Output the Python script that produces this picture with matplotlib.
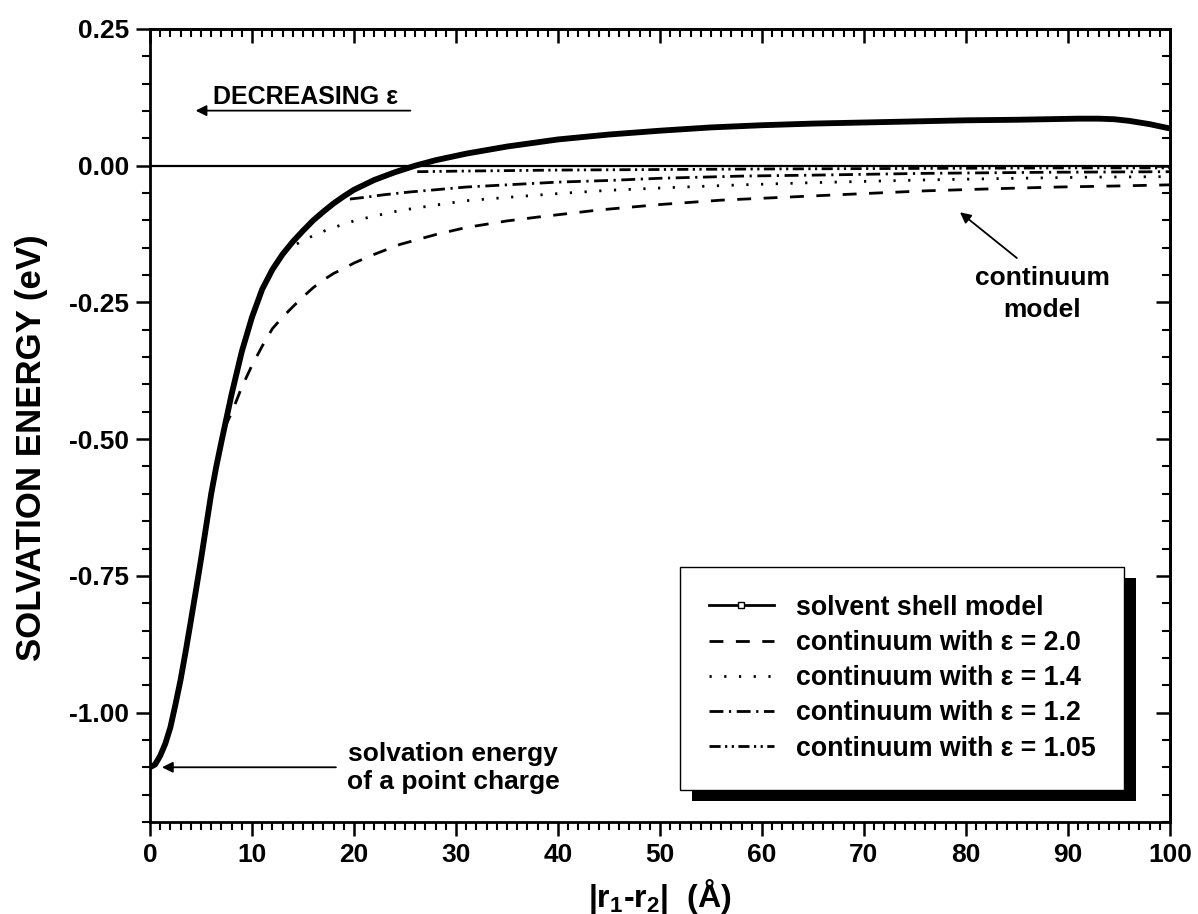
import numpy as np
import matplotlib.pyplot as plt
from matplotlib.lines import Line2D
from matplotlib.patches import Rectangle
from matplotlib.ticker import MultipleLocator, FormatStrFormatter

plt.rcParams['font.family'] = ['Liberation Sans', 'DejaVu Sans']
plt.rcParams['font.weight'] = 'bold'
plt.rcParams['axes.labelweight'] = 'bold'
plt.rcParams['axes.unicode_minus'] = False
plt.rcParams['mathtext.fontset'] = 'custom'
plt.rcParams['mathtext.rm'] = 'Liberation Sans:bold'
plt.rcParams['mathtext.default'] = 'rm'

# solvent shell model
shell_x = [0, 0.5, 1, 1.5, 2, 2.5, 3, 3.5, 4, 4.5, 5, 5.5, 6, 6.5, 7, 8, 9, 10, 11, 12,
           13, 14, 15, 16, 17, 18, 19, 20, 22, 24, 26, 28, 31, 35, 40, 45, 50, 55, 60,
           65, 70, 75, 80, 85, 88, 91, 93, 94.5, 96, 98, 100]
shell_y = [-1.100, -1.095, -1.079, -1.057, -1.027, -0.985, -0.94, -0.888, -0.833, -0.777,
           -0.72, -0.66, -0.60, -0.55, -0.505, -0.418, -0.34, -0.277, -0.226, -0.190,
           -0.162, -0.139, -0.119, -0.100, -0.084, -0.069, -0.056, -0.044, -0.026, -0.012,
           0.000, 0.010, 0.022, 0.035, 0.048, 0.057, 0.064, 0.070, 0.074, 0.077, 0.079,
           0.081, 0.083, 0.084, 0.085, 0.086, 0.086, 0.085, 0.082, 0.076, 0.068]

# continuum, eps = 2.0
eps20_x = [7.3, 8, 9, 10, 11, 12, 13, 14, 15, 16, 17, 18, 19, 20, 22, 24.5, 28, 31, 35,
           38, 44, 50, 56, 63, 70, 76, 83, 89, 95, 100]
eps20_y = [-0.48, -0.452, -0.405, -0.365, -0.330, -0.298, -0.277, -0.258, -0.240, -0.223,
           -0.209, -0.197, -0.188, -0.178, -0.162, -0.144, -0.126, -0.113, -0.101, -0.094,
           -0.081, -0.071, -0.063, -0.057, -0.051, -0.046, -0.042, -0.039, -0.037, -0.035]

# continuum, eps = 1.4
eps14_x = [14.4, 15, 16, 17, 18, 19, 20, 22, 24.5, 28, 31, 35, 40, 45, 51, 58, 65, 76,
           85, 92, 100]
eps14_y = [-0.143, -0.137, -0.128, -0.120, -0.113, -0.107, -0.101, -0.092, -0.082, -0.072,
           -0.064, -0.058, -0.051, -0.045, -0.040, -0.035, -0.031, -0.026, -0.023, -0.021,
           -0.020]

# continuum, eps = 1.2
eps12_x = [19.6, 21, 23, 25.5, 28, 31, 35, 40, 45, 50, 58, 66, 76, 88, 100]
eps12_y = [-0.061, -0.058, -0.053, -0.048, -0.044, -0.039, -0.035, -0.030, -0.027, -0.023,
           -0.019, -0.017, -0.014, -0.012, -0.011]

# continuum, eps = 1.05
eps105_x = [26.2, 30, 35, 40, 50, 60, 75, 90, 100]
eps105_y = [-0.011, -0.010, -0.009, -0.008, -0.007, -0.006, -0.005, -0.004, -0.004]

labels = ['solvent shell model', 'continuum with ε = 2.0', 'continuum with ε = 1.4',
          'continuum with ε = 1.2', 'continuum with ε = 1.05']

fig = plt.figure(figsize=(11.98, 9.14), dpi=100)
ax = fig.add_axes([0.1252, 0.1007, 0.8514, 0.8676])

lw_c = 2.0
dash_20 = (0, (5, 4.5))
dot_14 = (0, (0.8, 4.5))
dashdot_12 = (0, (5, 2, 0.8, 2))
dashdotdot_105 = (0, (4, 1.6, 0.8, 1.6, 0.8, 1.6))

ax.axhline(0, color='black', lw=1.6, zorder=2)
ax.plot(eps20_x, eps20_y, color='black', lw=lw_c, ls=dash_20, zorder=3)
ax.plot(eps14_x, eps14_y, color='black', lw=lw_c, ls=dot_14, zorder=3)
ax.plot(eps12_x, eps12_y, color='black', lw=lw_c, ls=dashdot_12, zorder=3)
ax.plot(eps105_x, eps105_y, color='black', lw=lw_c, ls=dashdotdot_105, zorder=3)
ax.plot(shell_x, shell_y, color='black', lw=4.2, zorder=4, solid_capstyle='round',
        solid_joinstyle='round')

ax.set_xlim(0, 100)
ax.set_ylim(-1.2, 0.25)

ax.xaxis.set_major_locator(MultipleLocator(10))
ax.xaxis.set_minor_locator(MultipleLocator(1))
ax.yaxis.set_major_locator(MultipleLocator(0.25))
ax.yaxis.set_minor_locator(MultipleLocator(0.05))
ax.yaxis.set_major_formatter(FormatStrFormatter('%.2f'))

for s in ax.spines.values():
    s.set_linewidth(2)
ax.tick_params(which='major', direction='out', length=10, width=1.8, labelsize=19, pad=5)
ax.tick_params(which='minor', direction='out', length=6, width=1.5)

# mirrored ticks on top and right point inwards
top = ax.secondary_xaxis('top')
top.xaxis.set_major_locator(MultipleLocator(10))
top.xaxis.set_minor_locator(MultipleLocator(1))
top.tick_params(which='major', direction='in', length=10, width=1.8, labeltop=False)
top.tick_params(which='minor', direction='in', length=6, width=1.5)
right = ax.secondary_yaxis('right')
right.yaxis.set_major_locator(MultipleLocator(0.25))
right.yaxis.set_minor_locator(MultipleLocator(0.05))
right.tick_params(which='major', direction='in', length=10, width=1.8, labelright=False)
right.tick_params(which='minor', direction='in', length=6, width=1.5)
top.spines['top'].set_linewidth(2)
right.spines['right'].set_linewidth(2)

ax.set_xlabel('|r$_1$-r$_2$|  (Å)', fontsize=23, fontweight='bold', labelpad=7)
ax.set_ylabel('SOLVATION ENERGY (eV)', fontsize=25, fontweight='bold')
ax.yaxis.set_label_coords(-0.100, 0.472)

arrow = dict(arrowstyle='-|>', color='black', lw=1.3, mutation_scale=16)
ax.annotate('', xy=(4.2, 0.1007), xytext=(25.8, 0.1007), arrowprops=arrow)
ax.text(6.2, 0.1136, 'DECREASING ε', fontsize=18, ha='left', va='baseline')

ax.annotate('', xy=(79.2, -0.082), xytext=(85.2, -0.172), arrowprops=arrow)
ax.text(87.5, -0.235, 'continuum\nmodel', fontsize=19, ha='center', va='center',
        linespacing=1.4)

ax.annotate('', xy=(0.9, -1.10), xytext=(18.5, -1.10), arrowprops=arrow)
ax.text(29.7, -1.101, 'solvation energy\nof a point charge', fontsize=19, ha='center',
        va='center', linespacing=1.2)

handles = [
    Line2D([0, 0.5, 1], [0, 0, 0], color='black', lw=2, marker='s', ms=4, mfc='white',
           mec='black', mew=1, markevery=[1]),
    Line2D([], [], color='black', lw=lw_c, ls=dash_20),
    Line2D([], [], color='black', lw=lw_c, ls=dot_14),
    Line2D([], [], color='black', lw=lw_c, ls=dashdot_12),
    Line2D([], [], color='black', lw=lw_c, ls=dashdotdot_105),
]
leg = ax.legend(handles, labels, loc='upper left', bbox_to_anchor=(52.0, -0.733),
                bbox_transform=ax.transData, borderaxespad=0, borderpad=1.05,
                fontsize=19.3, handlelength=2.45, handletextpad=0.8, labelspacing=0.345,
                fancybox=False, framealpha=1, edgecolor='black')
leg.get_frame().set_linewidth(1.0)
leg.set_zorder(6)

# drop shadow behind the legend box, offset down and right
fig.canvas.draw()
bb = leg.get_window_extent()
shadow = Rectangle((bb.x0 + 12, bb.y0 - 11), bb.width, bb.height, facecolor='black',
                   edgecolor='none', transform=None, zorder=5)
ax.add_artist(shadow)

fig.savefig('out.png', dpi=100)
